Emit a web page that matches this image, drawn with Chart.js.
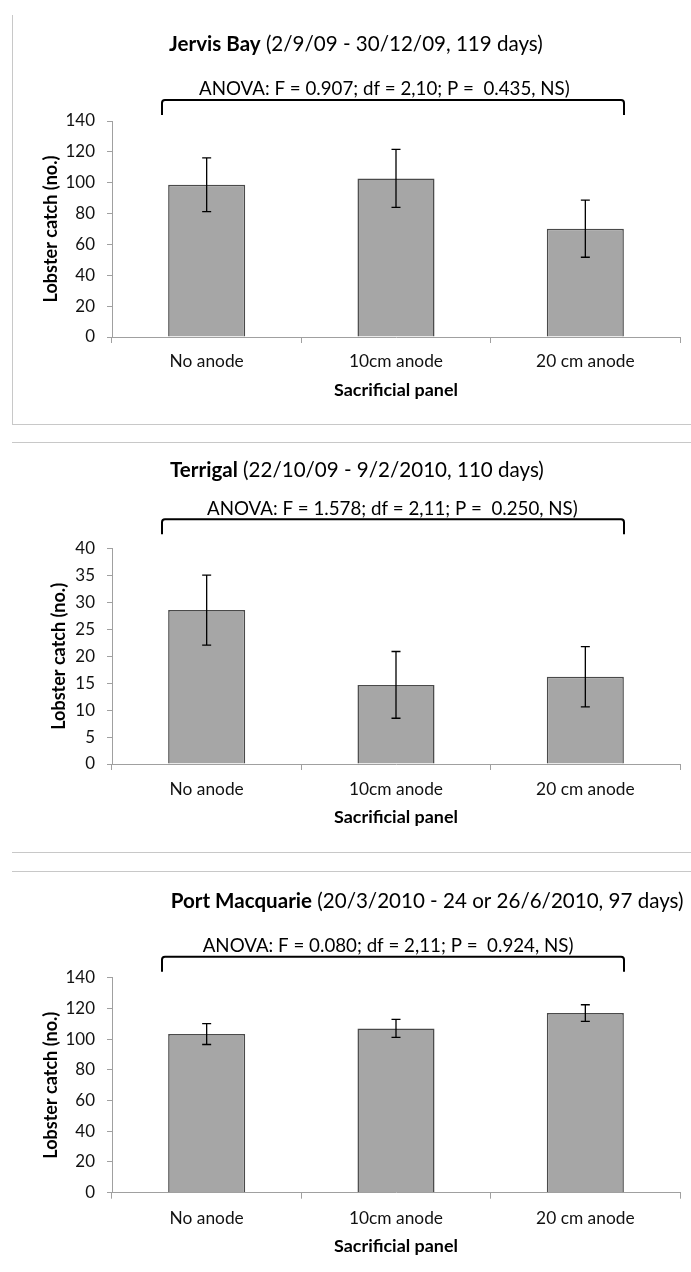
<!DOCTYPE html>
<html><head><meta charset="utf-8">
<script src="https://cdn.jsdelivr.net/npm/chart.js@4/dist/chart.umd.min.js"></script>
<style>
html,body{margin:0;padding:0;background:#fff;}
body{width:691px;height:1272px;position:relative;overflow:hidden;}
.panel{position:absolute;left:0;width:691px;}
.line{position:absolute;background:#c8c8c8;z-index:2;}
</style></head><body>
<div class="panel" id="p1" style="top:0;height:424px"><canvas id="c1"></canvas></div>
<div class="panel" id="p2" style="top:442px;height:410px"><canvas id="c2"></canvas></div>
<div class="panel" id="p3" style="top:871px;height:401px"><canvas id="c3"></canvas></div>
<div class="line" style="left:12px;top:15px;width:1px;height:409px"></div>
<div class="line" style="left:12px;top:424px;width:679px;height:1px"></div>
<div class="line" style="left:12px;top:442px;width:679px;height:1px"></div>
<div class="line" style="left:12px;top:852px;width:679px;height:1px"></div>
<div class="line" style="left:12px;top:871px;width:679px;height:1px"></div>
<script>
// ---- DATA ----
const categories = ['No anode', '10cm anode', '20 cm anode'];
const jervisMeans = [98.7, 102.8, 70.2];
const jervisErrors = [17.4, 18.8, 18.5];
const terrigalMeans = [28.6, 14.7, 16.2];
const terrigalErrors = [6.5, 6.2, 5.6];
const portMeans = [103.3, 107.0, 117.0];
const portErrors = [6.8, 5.9, 5.4];
const yMaxes = [140, 40, 140];
const ySteps = [20, 5, 20];
const titlesBold = ['Jervis Bay', 'Terrigal', 'Port Macquarie'];
const titlesRest = [' (2/9/09 - 30/12/09, 119 days)', ' (22/10/09 - 9/2/2010, 110 days)', ' (20/3/2010 - 24 or 26/6/2010, 97 days)'];
const anovaTexts = ['ANOVA: F = 0.907; df = 2,10; P =  0.435, NS)', 'ANOVA: F = 1.578; df = 2,11; P =  0.250, NS)', 'ANOVA: F = 0.080; df = 2,11; P =  0.924, NS)'];
const xTitle = 'Sacrificial panel';
const yTitle = 'Lobster catch (no.)';

// ---- FONT FITTING ----
const FONT = 'Lato, "Open Sans", sans-serif';
const mctx = document.createElement('canvas').getContext('2d');
function w100(text, weight){ mctx.font = weight + ' 100px ' + FONT; return mctx.measureText(text).width; }
function fit(text, weight, target){ return 100 * target / w100(text, weight); }
const titleSize = 100 * 374 / (w100(titlesBold[0], 'bold') + w100(titlesRest[0], 'normal'));
const anovaSize = fit(anovaTexts[0], 'normal', 371);
const xTickSize = (fit('No anode','normal',74) + fit('10cm anode','normal',94) + fit('20 cm anode','normal',99)) / 3;
const yTickSize = fit('140', 'normal', 29.5);
const xTitleSize = fit(xTitle, 'bold', 124);
const yTitleSize = fit(yTitle, 'bold', 147);

const headerPlugin = {
  id: 'header',
  afterDraw(chart, args, o) {
    const ctx = chart.ctx, top = chart.chartArea.top;
    ctx.save();
    ctx.fillStyle = '#000';
    ctx.textBaseline = 'alphabetic';
    ctx.textAlign = 'left';
    ctx.font = 'bold ' + titleSize + 'px ' + FONT;
    ctx.fillText(o.bold, o.titleX, top + o.titleBase);
    const bw = ctx.measureText(o.bold).width;
    ctx.font = titleSize + 'px ' + FONT;
    ctx.fillText(o.rest, o.titleX + bw, top + o.titleBase);
    ctx.font = anovaSize + 'px ' + FONT;
    ctx.fillText(o.anova, o.anovaX, top + o.anovaBase);
    const L = 162, R = 624, y = top + o.bY, yb = top + o.bB;
    ctx.beginPath();
    ctx.lineWidth = 2; ctx.strokeStyle = '#000';
    ctx.moveTo(L, yb); ctx.lineTo(L, y + 3); ctx.quadraticCurveTo(L, y, L + 3, y);
    ctx.lineTo(R - 3, y); ctx.quadraticCurveTo(R, y, R, y + 3); ctx.lineTo(R, yb);
    ctx.stroke();
    ctx.restore();
  }
};

const errorBarPlugin = {
  id: 'errorBars',
  afterDatasetsDraw(chart) {
    const ctx = chart.ctx, yS = chart.scales.y;
    const ds = chart.data.datasets[0];
    const meta = chart.getDatasetMeta(0);
    ctx.save();
    ctx.strokeStyle = '#000'; ctx.lineWidth = 1.3;
    meta.data.forEach((bar, i) => {
      const v = ds.data[i], e = ds.errors[i];
      const px = bar.x, yT = yS.getPixelForValue(v + e), yB = yS.getPixelForValue(v - e);
      ctx.beginPath();
      ctx.moveTo(px, yT); ctx.lineTo(px, yB);
      ctx.moveTo(px - 4.5, yT); ctx.lineTo(px + 4.5, yT);
      ctx.moveTo(px - 4.5, yB); ctx.lineTo(px + 4.5, yB);
      ctx.stroke();
    });
    ctx.restore();
  }
};

function makeChart(id, idx, means, errors, L) {
  const H = L.H;
  const plotTopRel = L.plotTop - L.top, plotBotRel = L.plotBottom - L.top;
  const xLH = xTickSize * 1.2, xtLH = xTitleSize * 1.2, ytLH = yTitleSize * 1.2;
  return new Chart(document.getElementById(id), {
    type: 'bar',
    data: {
      labels: categories,
      datasets: [{
        data: means,
        errors: errors,
        backgroundColor: '#a6a6a6',
        borderColor: '#4a4a4a',
        borderWidth: 1.5,
        barPercentage: 0.407,
        categoryPercentage: 1.0
      }]
    },
    options: {
      responsive: true,
      maintainAspectRatio: false,
      animation: false,
      events: [],
      layout: { padding: { top: plotTopRel, left: 0, right: 691 - 680, bottom: 0 } },
      plugins: {
        legend: { display: false },
        tooltip: { enabled: false },
        header: L.header
      },
      scales: {
        x: {
          offset: true,
          grid: { offset: true, drawOnChartArea: false, drawTicks: true, tickLength: 6, color: '#a0a0a0', lineWidth: 1 },
          border: { display: true, color: '#a0a0a0', width: 1 },
          ticks: { color: '#111', font: { family: FONT, size: xTickSize }, padding: (L.xLabelY - L.plotBottom) - 6 - xLH / 2, maxRotation: 0 },
          title: { display: true, text: xTitle, color: '#000', font: { family: FONT, size: xTitleSize, weight: 'bold', lineHeight: 1.2 },
                   padding: { top: 0, bottom: (L.top + H - L.xTitleY) - xtLH / 2 } },
          afterFit(s) { s.height = H - plotBotRel; }
        },
        y: {
          min: 0, max: yMaxes[idx],
          ticks: { stepSize: ySteps[idx], color: '#111', font: { family: FONT, size: yTickSize }, padding: 12 },
          grid: { drawOnChartArea: false, drawTicks: true, tickLength: 5, color: '#a0a0a0', lineWidth: 1 },
          border: { display: true, color: '#a0a0a0', width: 1 },
          title: { display: true, text: yTitle, color: '#000', font: { family: FONT, size: yTitleSize, weight: 'bold', lineHeight: 1.2 },
                   padding: { top: L.yTitleX - ytLH / 2, bottom: 0 } },
          afterFit(s) { s.width = 112; }
        }
      }
    },
    plugins: [headerPlugin, errorBarPlugin]
  });
}

makeChart('c1', 0, jervisMeans, jervisErrors, {
  top: 0, H: 424, plotTop: 121, plotBottom: 337, yTitleX: 51, xLabelY: 361.7, xTitleY: 390,
  header: { bold: titlesBold[0], rest: titlesRest[0], anova: anovaTexts[0], titleX: 169, anovaX: 199, titleBase: -70.3, anovaBase: -26, bY: -21, bB: -6 }
});
makeChart('c2', 1, terrigalMeans, terrigalErrors, {
  top: 442, H: 410, plotTop: 548.7, plotBottom: 764, yTitleX: 59.5, xLabelY: 789.3, xTitleY: 817.7,
  header: { bold: titlesBold[1], rest: titlesRest[1], anova: anovaTexts[1], titleX: 170, anovaX: 207, titleBase: -71.4, anovaBase: -33.7, bY: -29.4, bB: -14.4 }
});
makeChart('c3', 2, portMeans, portErrors, {
  top: 871, H: 401, plotTop: 977.7, plotBottom: 1192.7, yTitleX: 51, xLabelY: 1218, xTitleY: 1246.7,
  header: { bold: titlesBold[2], rest: titlesRest[2], anova: anovaTexts[2], titleX: 170.7, anovaX: 202.7, titleBase: -70, anovaBase: -26, bY: -21, bB: -6 }
});
</script>
</body></html>
